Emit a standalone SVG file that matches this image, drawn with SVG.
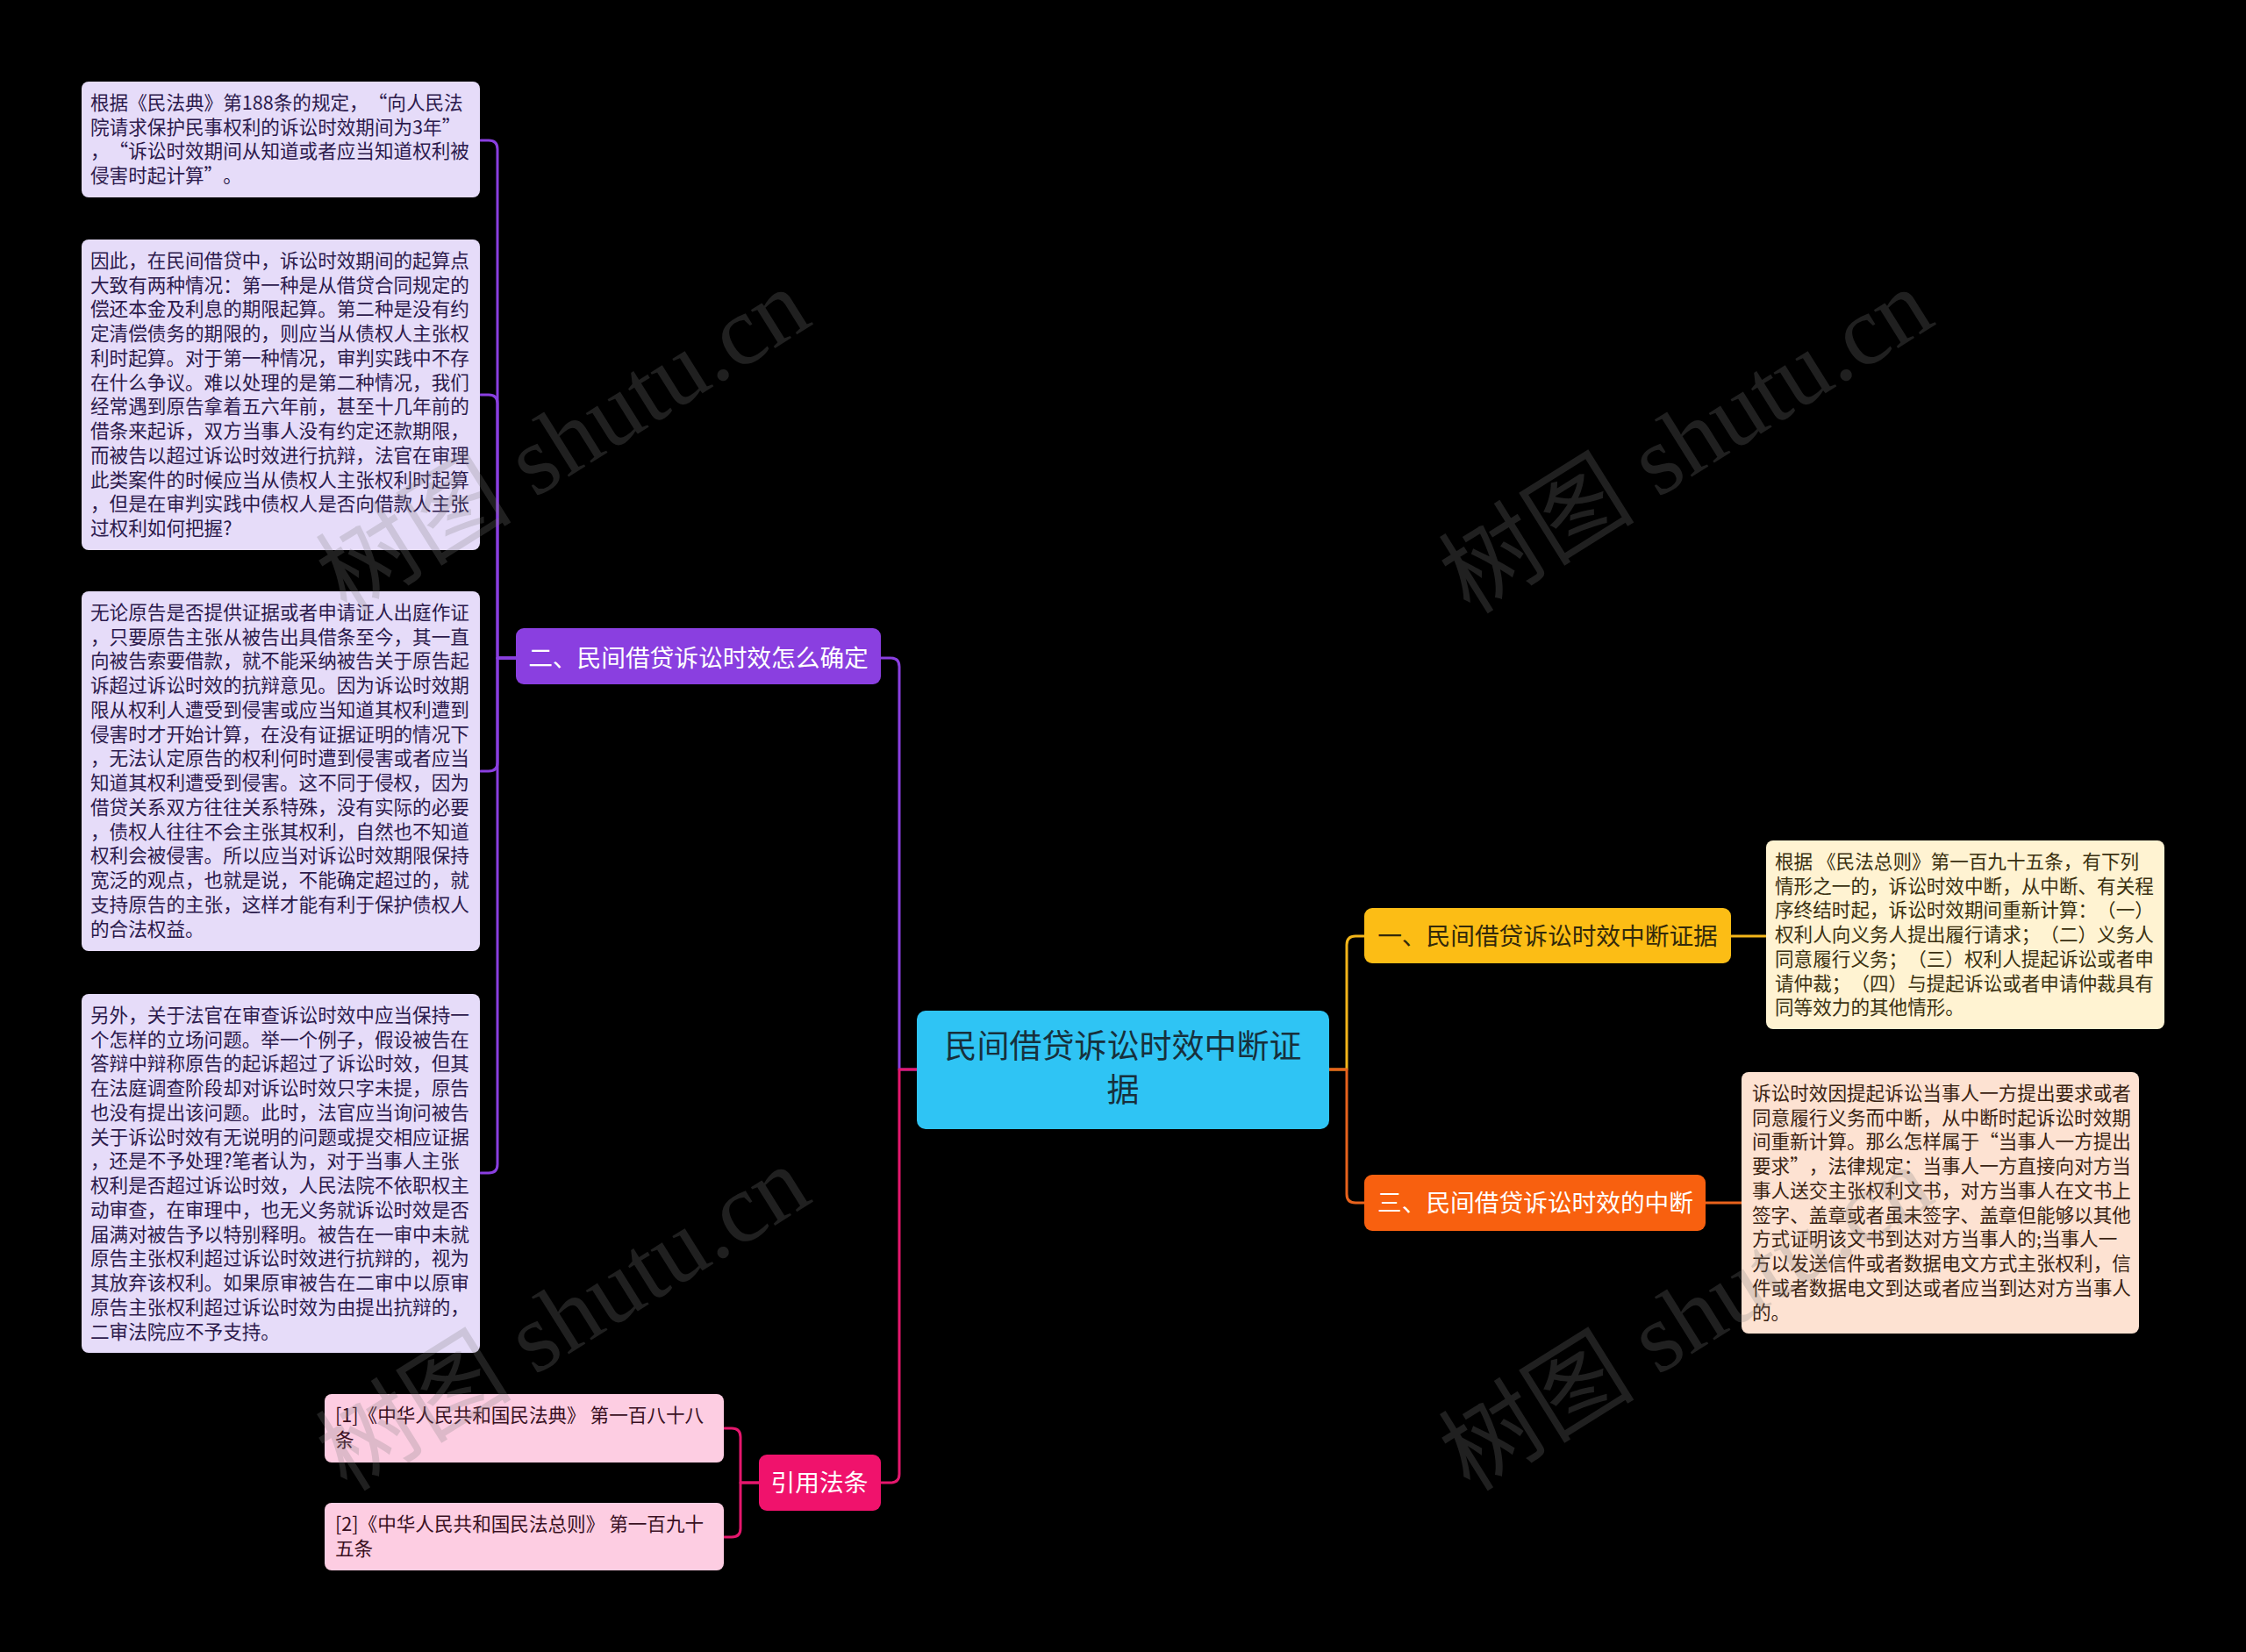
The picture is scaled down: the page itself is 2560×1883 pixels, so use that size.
<svg xmlns="http://www.w3.org/2000/svg" width="2560" height="1883" viewBox="0 0 2560 1883">
<style>
text{font-family:"Noto Sans CJK SC","Noto Sans",sans-serif;text-spacing-trim:space-all}
.leaf{font-size:21.6px}
.q{font-feature-settings:"fwid" 1}
.lp{fill:#e6dcf9}
.lpt{fill:#2c1a4c}
.lk{fill:#fdcde2}
.lkt{fill:#3a1022}
.ly{fill:#fff3d2}
.lyt{fill:#3a3010}
.lo{fill:#fde2d2}
.lot{fill:#3a2312}
.node{font-size:27.7px;text-anchor:middle}
.c{fill:none;stroke-width:3;stroke-linecap:round;stroke-linejoin:round}
.wm{font-family:"Liberation Serif","Noto Sans CJK SC",serif;font-size:112px;fill:#808080;opacity:0.25;text-anchor:middle}
</style>
<rect x="0" y="0" width="2560" height="1883" fill="#000"/>

<g id="connectors">
<path class="c" stroke="#8a3fe0" d="M588,750 H567 V170 Q567,160 557,160 H547"/>
<path class="c" stroke="#8a3fe0" d="M588,750 H567 V460 Q567,450 557,450 H547"/>
<path class="c" stroke="#8a3fe0" d="M588,750 H567 V869 Q567,879 557,879 H547"/>
<path class="c" stroke="#8a3fe0" d="M588,750 H567 V1327 Q567,1337 557,1337 H547"/>
<path class="c" stroke="#8a3fe0" d="M1045,1219 H1025 V760 Q1025,750 1015,750 H1004"/>
<path class="c" stroke="#e5176d" d="M1045,1219 H1025 V1680 Q1025,1690 1015,1690 H1004"/>
<path class="c" stroke="#e5176d" d="M865,1690 H844 V1638 Q844,1628 834,1628 H825"/>
<path class="c" stroke="#e5176d" d="M865,1690 H844 V1742 Q844,1752 834,1752 H825"/>
<path class="c" stroke="#f3b61a" d="M1515,1219 H1535 V1077 Q1535,1067 1545,1067 H1555"/>
<path class="c" stroke="#e8621c" d="M1515,1219 H1535 V1361 Q1535,1371 1545,1371 H1555"/>
<path class="c" stroke="#f3b61a" d="M1973,1067 H2013"/>
<path class="c" stroke="#e8621c" d="M1944,1371 H1985"/>
</g>

<g id="root">
<rect x="1045" y="1152" width="470" height="135" rx="10" fill="#2fc4f4"/>
<text x="1280" y="1206" font-size="37" text-anchor="middle" fill="#17303c">民间借贷诉讼时效中断证</text>
<text x="1280" y="1256" font-size="37" text-anchor="middle" fill="#17303c">据</text>
</g>

<g id="n2">
<rect x="588" y="716" width="416" height="64" rx="9" fill="#8a3fe0"/>
<text class="node" x="796" y="760" fill="#fff">二、民间借贷诉讼时效怎么确定</text>
</g>

<g id="n1">
<rect x="1555" y="1035" width="418" height="63" rx="9" fill="#fcbd15"/>
<text class="node" x="1764" y="1077" fill="#33290a">一、民间借贷诉讼时效中断证据</text>
</g>

<g id="n3">
<rect x="1555" y="1339" width="389" height="64" rx="9" fill="#f8600f"/>
<text class="node" x="1750" y="1381" fill="#fff">三、民间借贷诉讼时效的中断</text>
</g>

<g id="nref">
<rect x="865" y="1658" width="139" height="64" rx="9" fill="#f0126c"/>
<text class="node" x="934" y="1700" fill="#fff">引用法条</text>
</g>

<g id="leaf2a">
<rect class="lp" x="93" y="93" width="454" height="132" rx="8"/>
<text class="leaf lpt">
<tspan x="103" y="124.9">根据《民法典》第188条的规定，<tspan class="q">“</tspan>向人民法</tspan>
<tspan x="103" y="152.7">院请求保护民事权利的诉讼时效期间为3年<tspan class="q">”</tspan></tspan>
<tspan x="103" y="180.4">，<tspan class="q">“</tspan>诉讼时效期间从知道或者应当知道权利被</tspan>
<tspan x="103" y="208.2">侵害时起计算<tspan class="q">”</tspan>。</tspan>
</text>
</g>

<g id="leaf2b">
<rect class="lp" x="93" y="273" width="454" height="354" rx="8"/>
<text class="leaf lpt">
<tspan x="103" y="304.9">因此，在民间借贷中，诉讼时效期间的起算点</tspan>
<tspan x="103" y="332.65">大致有两种情况：第一种是从借贷合同规定的</tspan>
<tspan x="103" y="360.4">偿还本金及利息的期限起算。第二种是没有约</tspan>
<tspan x="103" y="388.15">定清偿债务的期限的，则应当从债权人主张权</tspan>
<tspan x="103" y="415.9">利时起算。对于第一种情况，审判实践中不存</tspan>
<tspan x="103" y="443.65">在什么争议。难以处理的是第二种情况，我们</tspan>
<tspan x="103" y="471.4">经常遇到原告拿着五六年前，甚至十几年前的</tspan>
<tspan x="103" y="499.15">借条来起诉，双方当事人没有约定还款期限，</tspan>
<tspan x="103" y="526.9">而被告以超过诉讼时效进行抗辩，法官在审理</tspan>
<tspan x="103" y="554.65">此类案件的时候应当从债权人主张权利时起算</tspan>
<tspan x="103" y="582.4">，但是在审判实践中债权人是否向借款人主张</tspan>
<tspan x="103" y="610.15">过权利如何把握?</tspan>
</text>
</g>

<g id="leaf2c">
<rect class="lp" x="93" y="674" width="454" height="410" rx="8"/>
<text class="leaf lpt">
<tspan x="103" y="705.9">无论原告是否提供证据或者申请证人出庭作证</tspan>
<tspan x="103" y="733.65">，只要原告主张从被告出具借条至今，其一直</tspan>
<tspan x="103" y="761.4">向被告索要借款，就不能采纳被告关于原告起</tspan>
<tspan x="103" y="789.15">诉超过诉讼时效的抗辩意见。因为诉讼时效期</tspan>
<tspan x="103" y="816.9">限从权利人遭受到侵害或应当知道其权利遭到</tspan>
<tspan x="103" y="844.65">侵害时才开始计算，在没有证据证明的情况下</tspan>
<tspan x="103" y="872.4">，无法认定原告的权利何时遭到侵害或者应当</tspan>
<tspan x="103" y="900.15">知道其权利遭受到侵害。这不同于侵权，因为</tspan>
<tspan x="103" y="927.9">借贷关系双方往往关系特殊，没有实际的必要</tspan>
<tspan x="103" y="955.65">，债权人往往不会主张其权利，自然也不知道</tspan>
<tspan x="103" y="983.4">权利会被侵害。所以应当对诉讼时效期限保持</tspan>
<tspan x="103" y="1011.15">宽泛的观点，也就是说，不能确定超过的，就</tspan>
<tspan x="103" y="1038.9">支持原告的主张，这样才能有利于保护债权人</tspan>
<tspan x="103" y="1066.65">的合法权益。</tspan>
</text>
</g>

<g id="leaf2d">
<rect class="lp" x="93" y="1133" width="454" height="409" rx="8"/>
<text class="leaf lpt">
<tspan x="103" y="1164.9">另外，关于法官在审查诉讼时效中应当保持一</tspan>
<tspan x="103" y="1192.65">个怎样的立场问题。举一个例子，假设被告在</tspan>
<tspan x="103" y="1220.4">答辩中辩称原告的起诉超过了诉讼时效，但其</tspan>
<tspan x="103" y="1248.15">在法庭调查阶段却对诉讼时效只字未提，原告</tspan>
<tspan x="103" y="1275.9">也没有提出该问题。此时，法官应当询问被告</tspan>
<tspan x="103" y="1303.65">关于诉讼时效有无说明的问题或提交相应证据</tspan>
<tspan x="103" y="1331.4">，还是不予处理?笔者认为，对于当事人主张</tspan>
<tspan x="103" y="1359.15">权利是否超过诉讼时效，人民法院不依职权主</tspan>
<tspan x="103" y="1386.9">动审查，在审理中，也无义务就诉讼时效是否</tspan>
<tspan x="103" y="1414.65">届满对被告予以特别释明。被告在一审中未就</tspan>
<tspan x="103" y="1442.4">原告主张权利超过诉讼时效进行抗辩的，视为</tspan>
<tspan x="103" y="1470.15">其放弃该权利。如果原审被告在二审中以原审</tspan>
<tspan x="103" y="1497.9">原告主张权利超过诉讼时效为由提出抗辩的，</tspan>
<tspan x="103" y="1525.65">二审法院应不予支持。</tspan>
</text>
</g>

<g id="ref1">
<rect class="lk" x="370" y="1589" width="455" height="78" rx="8"/>
<text class="leaf lkt">
<tspan x="382" y="1620.9">[1]《中华人民共和国民法典》 第一百八十八</tspan>
<tspan x="382" y="1648.7">条</tspan>
</text>
</g>

<g id="ref2">
<rect class="lk" x="370" y="1713" width="455" height="77" rx="8"/>
<text class="leaf lkt">
<tspan x="382" y="1744.9">[2]《中华人民共和国民法总则》 第一百九十</tspan>
<tspan x="382" y="1772.7">五条</tspan>
</text>
</g>

<g id="leaf1">
<rect class="ly" x="2013" y="958" width="454" height="215" rx="8"/>
<text class="leaf lyt">
<tspan x="2023" y="989.9">根据 《民法总则》第一百九十五条，有下列</tspan>
<tspan x="2023" y="1017.65">情形之一的，诉讼时效中断，从中断、有关程</tspan>
<tspan x="2023" y="1045.4">序终结时起，诉讼时效期间重新计算：（一）</tspan>
<tspan x="2023" y="1073.15">权利人向义务人提出履行请求；（二）义务人</tspan>
<tspan x="2023" y="1100.9">同意履行义务；（三）权利人提起诉讼或者申</tspan>
<tspan x="2023" y="1128.65">请仲裁；（四）与提起诉讼或者申请仲裁具有</tspan>
<tspan x="2023" y="1156.4">同等效力的其他情形。</tspan>
</text>
</g>

<g id="leaf3">
<rect class="lo" x="1985" y="1222" width="453" height="298" rx="8"/>
<text class="leaf lot">
<tspan x="1997" y="1253.9">诉讼时效因提起诉讼当事人一方提出要求或者</tspan>
<tspan x="1997" y="1281.65">同意履行义务而中断，从中断时起诉讼时效期</tspan>
<tspan x="1997" y="1309.4">间重新计算。那么怎样属于<tspan class="q">“</tspan>当事人一方提出</tspan>
<tspan x="1997" y="1337.15">要求<tspan class="q">”</tspan>，法律规定：当事人一方直接向对方当</tspan>
<tspan x="1997" y="1364.9">事人送交主张权利文书，对方当事人在文书上</tspan>
<tspan x="1997" y="1392.65">签字、盖章或者虽未签字、盖章但能够以其他</tspan>
<tspan x="1997" y="1420.4">方式证明该文书到达对方当事人的;当事人一</tspan>
<tspan x="1997" y="1448.15">方以发送信件或者数据电文方式主张权利，信</tspan>
<tspan x="1997" y="1475.9">件或者数据电文到达或者应当到达对方当事人</tspan>
<tspan x="1997" y="1503.65">的。</tspan>
</text>
</g>

<g id="watermarks">
<text class="wm" transform="translate(662,535) rotate(-32)">树图 shutu.cn</text>
<text class="wm" transform="translate(1942,535) rotate(-32)">树图 shutu.cn</text>
<text class="wm" transform="translate(662,1535) rotate(-32)">树图 shutu.cn</text>
<text class="wm" transform="translate(1942,1535) rotate(-32)">树图 shutu.cn</text>
</g>
</svg>
